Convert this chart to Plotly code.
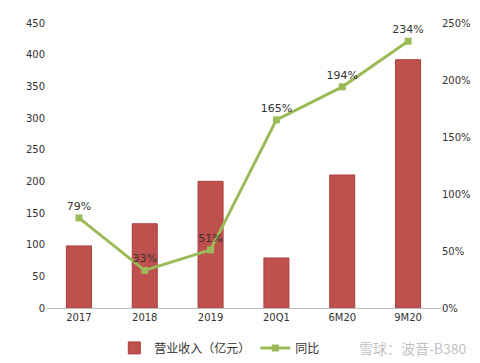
import plotly.graph_objects as go

categories = ["2017", "2018", "2019", "20Q1", "6M20", "9M20"]
revenue = [98, 133, 200, 79, 210, 392]
yoy = [79, 33, 51, 165, 194, 234]
yoy_labels = ["79%", "33%", "51%", "165%", "194%", "234%"]

fig = go.Figure()
fig.add_trace(go.Bar(
    x=categories, y=revenue, name="营业收入（亿元）",
    marker=dict(color="#C0504D", line=dict(color="#A8403D", width=1)),
    width=0.38, yaxis="y",
))
fig.add_trace(go.Scatter(
    x=categories, y=yoy, name="同比", yaxis="y2",
    mode="lines+markers+text",
    line=dict(color="#9BBB59", width=3),
    marker=dict(symbol="square", size=7, color="#9BBB59"),
    text=yoy_labels, textposition="top center",
    textfont=dict(size=11, color="#333333"),
))

fig.update_layout(
    width=480, height=363,
    margin=dict(l=38, r=47, t=15, b=63, autoexpand=False),
    paper_bgcolor="white", plot_bgcolor="white",
    font=dict(family="DejaVu Sans, Noto Sans CJK SC", size=10, color="#333333"),
    bargap=0.6,
    xaxis=dict(showgrid=False, showline=True, linecolor="#BFBFBF", linewidth=1,
               ticks="", tickfont=dict(size=10)),
    yaxis=dict(range=[0, 450], dtick=50, showgrid=False, zeroline=False,
               showline=False, ticks="", tickfont=dict(size=10)),
    yaxis2=dict(range=[0, 250], dtick=50, overlaying="y", side="right",
                ticksuffix="%", showgrid=False, zeroline=False, showline=False,
                ticks="", tickfont=dict(size=10)),
    legend=dict(orientation="h", x=0.44, xanchor="center", y=-0.14, yanchor="middle",
                font=dict(size=12, family="Noto Sans CJK SC"), traceorder="normal"),
    showlegend=True,
)
fig.add_annotation(text="雪球：波音-B380", xref="paper", yref="paper",
                   x=1.07, y=-0.14, xanchor="right", yanchor="middle", showarrow=False,
                   font=dict(size=14, color="rgba(150,150,150,0.6)", family="Noto Sans CJK SC"))

fig.write_html("out.html")
